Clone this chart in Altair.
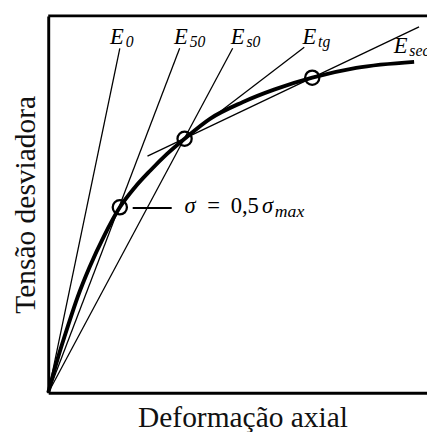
import altair as alt
import pandas as pd

# Stress-strain curve (normalised units, 0-100)
curve_strain = [0, 2.6, 5.2, 7.8, 10.9, 14.8, 18.9, 22.8, 26.9, 31.3, 36.0, 42.7, 51.3, 59.8, 69.7, 81.3, 96.6]
curve_stress = [0, 9.4, 17.7, 25.5, 33.3, 41.7, 49.2, 54.4, 58.9, 63.3, 67.4, 72.7, 77.1, 80.5, 83.6, 86.2, 87.8]

# Marked points (circles)
mark_strain = [18.9, 36.0, 69.7]
mark_stress = [49.2, 67.4, 83.6]

# Modulus lines
mod_names = ["E0", "E50", "Es0", "Etg", "Esec"]
mod_x1 = [0, 0, 0, 33.7, 26.2]
mod_y1 = [0, 0, 0, 65.6, 62.8]
mod_x2 = [18.9, 34.7, 48.7, 67.6, 97.9]
mod_y2 = [91.4, 91.4, 91.4, 91.7, 97.1]

# Modulus labels
label_main = ["E", "E", "E", "E", "E"]
label_sub = ["0", "50", "s0", "tg", "sec"]
label_x = [16.3, 33.2, 48.2, 67.1, 91.2]
label_y = [92.6, 92.6, 92.6, 92.6, 90.1]

# Annotation sigma = 0,5 sigma_max
leader_x = [22.3, 32.6]
leader_y = [49.0, 49.0]
annot_x = 36.0
annot_y = 47.7

curve_df = pd.DataFrame({"x": curve_strain, "y": curve_stress})
mark_df = pd.DataFrame({"x": mark_strain, "y": mark_stress})
mod_df = pd.DataFrame({"name": mod_names, "x": mod_x1, "y": mod_y1, "x2": mod_x2, "y2": mod_y2})
lab_df = pd.DataFrame({"main": label_main, "sub": label_sub, "x": label_x, "y": label_y})
leader_df = pd.DataFrame({"x": [leader_x[0]], "x2": [leader_x[1]], "y": [leader_y[0]]})
annot_df = pd.DataFrame({"x": [annot_x], "y": [annot_y]})
one_df = pd.DataFrame({"a": [0]})

xscale = alt.Scale(domain=[0, 100], nice=False, zero=False)
yscale = alt.Scale(domain=[0, 100], nice=False, zero=False)
serif = "Liberation Serif"
xaxis = alt.Axis(title="Deformação axial", ticks=False, labels=False, grid=False,
                 domainWidth=3, domainColor="black", titleFont=serif, titleFontSize=30,
                 titleFontWeight="normal", titleColor="#111111",
                 titleBaseline="alphabetic", titlePadding=34, titleX=198)
yaxis = alt.Axis(title="Tensão desviadora", ticks=False, labels=False, grid=False,
                 domainWidth=3, domainColor="black", titleFont=serif, titleFontSize=30,
                 titleFontWeight="normal", titleColor="#111111",
                 titleBaseline="alphabetic", titlePadding=14)


def X(f="x"):
    return alt.X(f"{f}:Q", scale=xscale, axis=xaxis)


def Y(f="y"):
    return alt.Y(f"{f}:Q", scale=yscale, axis=yaxis)


curve = alt.Chart(curve_df).mark_line(color="black", strokeWidth=4, interpolate="monotone").encode(
    x=X(), y=Y())

mods = alt.Chart(mod_df).mark_rule(color="black", strokeWidth=1.3).encode(
    x=X(), y=Y(), x2="x2:Q", y2="y2:Q")

top = alt.Chart(one_df).mark_rule(color="black", strokeWidth=3).encode(
    x=alt.datum(0, scale=xscale), x2=alt.datum(100), y=alt.datum(100, scale=yscale))

circles = alt.Chart(mark_df).mark_point(shape="circle", size=210, filled=False, color="black",
                                        strokeWidth=2.3, opacity=1).encode(x=X(), y=Y())

leader = alt.Chart(leader_df).mark_rule(color="black", strokeWidth=2).encode(
    x=X(), x2="x2:Q", y=Y())

lab_main = alt.Chart(lab_df).mark_text(font=serif, fontSize=23, fontStyle="italic", align="left",
                                       baseline="alphabetic", color="black").encode(
    x=X(), y=Y(), text="main:N")
lab_sub = alt.Chart(lab_df).mark_text(font=serif, fontSize=16, fontStyle="italic", align="left",
                                      baseline="alphabetic", color="black", dx=16, dy=3).encode(
    x=X(), y=Y(), text="sub:N")

annot_layers = []
for txt, dx, dy, size, style in [("σ", 0, 0, 23, "italic"), ("=", 23, 0, 23, "normal"),
                                 ("0,5", 47, 0, 23, "normal"), ("σ", 79, 0, 23, "italic"),
                                 ("max", 92, 4, 18, "italic")]:
    annot_layers.append(
        alt.Chart(annot_df).mark_text(text=txt, font=serif, fontSize=size, fontStyle=style,
                                      align="left", baseline="alphabetic", color="black",
                                      dx=dx, dy=dy).encode(x=X(), y=Y()))

chart = alt.layer(mods, curve, circles, leader, top, lab_main, lab_sub, *annot_layers).properties(
    width=386, height=384,
    autosize=alt.AutoSizeParams(type="none"),
    padding={"left": 41, "top": 4, "right": 0, "bottom": 36},
    background="white",
).configure_view(stroke=None)

chart.save("out.html", embed_options={"renderer": "svg", "actions": False})
